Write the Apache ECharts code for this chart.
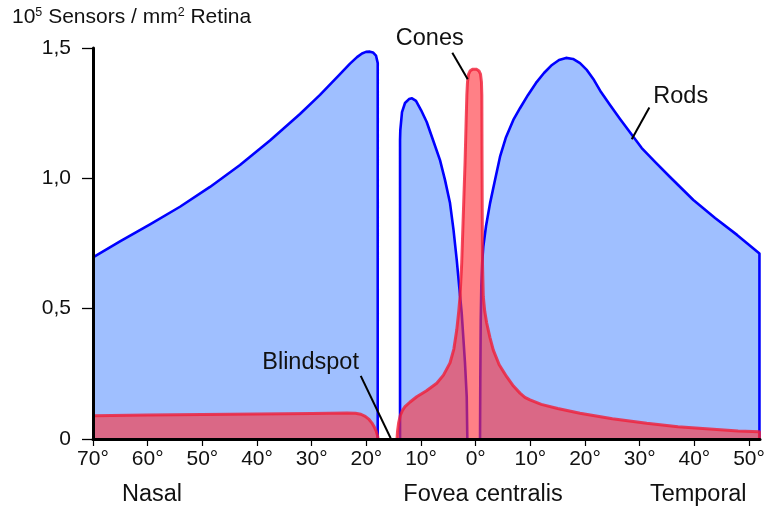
<!DOCTYPE html>
<html><head><meta charset="utf-8">
<script src="https://cdn.jsdelivr.net/npm/echarts@6/dist/echarts.min.js"></script>
<style>html,body{margin:0;padding:0;background:#fff}#c{width:768px;height:509px}</style>
</head><body><div id="c"></div>
<script>
// ---- data (degrees from fovea: negative = nasal, positive = temporal; values in 10^5 sensors/mm^2) ----
const xTicks = [-70,-60,-50,-40,-30,-20,-10,0,10,20,30,40,50];
const yTicks = [0, 0.5, 1.0, 1.5];
const yTickLabels = ['0', '0,5', '1,0', '1,5'];

const rodsNasal = [[-70,0.697],[-65.06,0.758],[-59.57,0.823],[-54.09,0.891],[-48.60,0.967],[-43.11,1.051],[-37.63,1.145],[-32.14,1.247],[-28.48,1.320],[-24.82,1.400],[-22.99,1.440],[-21.71,1.465],[-20.80,1.479],[-20.07,1.485],[-19.34,1.486],[-18.79,1.483],[-18.24,1.471],[-17.92,1.442],[-17.92,0]];
const rodsParafovea = [[-13.84,0],[-13.84,1.147],[-13.79,1.185],[-13.48,1.254],[-12.93,1.289],[-12.20,1.304],[-11.65,1.307],[-10.92,1.297],[-10.00,1.262],[-8.96,1.216],[-7.81,1.147],[-6.53,1.070],[-5.62,0.994],[-4.70,0.905],[-4.06,0.802],[-3.47,0.687],[-2.96,0.572],[-2.56,0.483],[-1.96,0.292],[-1.64,0.161],[-1.53,0]];
const rodsTemporal = [[0.79,0],[0.84,0.226],[0.92,0.456],[1.03,0.591],[1.19,0.679],[1.39,0.738],[1.89,0.817],[2.62,0.904],[3.53,0.994],[4.45,1.083],[5.54,1.158],[6.88,1.224],[8.10,1.269],[9.57,1.320],[11.03,1.366],[12.49,1.404],[13.95,1.435],[15.24,1.454],[16.52,1.462],[17.80,1.458],[19.08,1.442],[20.36,1.415],[21.64,1.377],[22.92,1.331],[24.57,1.281],[26.40,1.228],[28.59,1.166],[30.37,1.116],[32.80,1.063],[35.54,1.005],[39.81,0.917],[43.78,0.848],[47.80,0.783],[51.9,0.712],[51.9,0]];

const conesNasal = [[-70,0.089],[-60,0.092],[-50,0.094],[-40,0.096],[-30,0.098],[-23.5,0.100],[-22.0,0.099],[-21.0,0.095],[-20.2,0.087],[-19.5,0.075],[-19.0,0.062],[-18.6,0.048],[-18.2,0.030],[-17.95,0.012],[-17.85,0]];
const conesCentral = [[-14.4,0],[-14.3,0.030],[-14.1,0.062],[-13.8,0.090],[-13.4,0.110],[-12.93,0.124],[-12.0,0.142],[-10.79,0.162],[-9.0,0.185],[-7.13,0.214],[-5.9,0.245],[-4.70,0.292],[-4.0,0.345],[-3.47,0.418],[-3.1,0.490],[-2.87,0.546],[-2.56,0.675],[-2.3,0.84],[-1.95,1.06],[-1.75,1.22],[-1.62,1.32],[-1.5,1.37],[-1.3,1.40],[-1.0,1.413],[-0.6,1.418],[0.2,1.418],[0.6,1.412],[0.88,1.40],[1.05,1.37],[1.12,1.32],[1.15,1.109],[1.20,0.85],[1.24,0.675],[1.39,0.546],[1.65,0.490],[2.01,0.445],[2.6,0.390],[3.22,0.341],[4.3,0.285],[5.67,0.239],[6.9,0.203],[8.10,0.176],[9.0,0.160],[9.93,0.150],[12.0,0.133],[15.0,0.117],[19.08,0.099],[25.0,0.078],[31.28,0.060],[37.0,0.047],[43.46,0.037],[48.0,0.031],[51.9,0.028],[51.9,0]];

const regionNames = ['Nasal', 'Fovea centralis', 'Temporal'];
const regionAt = [-59.2, 1.34, 40.7];
const annotations = [
  {text: 'Cones', from: [-4.28, 1.482], to: [-1.46, 1.380], label: [-8.4, 1.535]},
  {text: 'Rods', from: [31.76, 1.272], to: [28.54, 1.150], label: [37.5, 1.312]},
  {text: 'Blindspot', from: [-21.03, 0.242], to: [-15.55, 0.003], label: [-30.2, 0.295]}
];

const withBreaks = (...parts) => parts.reduce((acc, p, i) => i ? acc.concat([[null, null]], p) : p.slice(), []);
const rods = withBreaks(rodsNasal, rodsParafovea, rodsTemporal);
const cones = withBreaks(conesNasal, conesCentral);

const FONT = '"Liberation Sans", Arial, sans-serif';
const chart = echarts.init(document.getElementById('c'), null, {renderer: 'canvas'});
chart.setOption({
  animation: false,
  grid: {left: 93, right: 8, top: 48, bottom: 70},
  xAxis: {
    type: 'value', min: -70, max: 52, interval: 10, z: 5,
    axisLine: {show: true, onZero: false, lineStyle: {color: '#000', width: 3}},
    axisTick: {show: true, customValues: xTicks, length: 7, lineStyle: {color: '#000', width: 1.2}},
    axisLabel: {customValues: xTicks, margin: 10, color: '#111', fontSize: 21, fontFamily: FONT,
      formatter: v => Math.abs(Math.round(v)) + '°'},
    splitLine: {show: false}
  },
  yAxis: {
    type: 'value', min: 0, max: 1.5, interval: 0.5, z: 5,
    axisLine: {show: true, onZero: false, lineStyle: {color: '#000', width: 3}},
    axisTick: {show: true, length: 11, lineStyle: {color: '#000', width: 1.3}},
    axisLabel: {margin: 22, color: '#111', fontSize: 21, fontFamily: FONT,
      formatter: v => { const i = yTicks.findIndex(t => Math.abs(t - v) < 1e-6); return i >= 0 ? yTickLabels[i] : ''; }},
    splitLine: {show: false}
  },
  series: [
    {type: 'line', name: 'Rods', data: rods, showSymbol: false, connectNulls: false, smooth: false,
      lineStyle: {color: '#0000ff', width: 2.6, join: 'round'}, areaStyle: {color: '#9fbfff', opacity: 1}, z: 2},
    {type: 'line', name: 'Cones', data: cones, showSymbol: false, connectNulls: false, smooth: false,
      lineStyle: {color: 'rgba(240,30,55,0.8)', width: 3, join: 'round'}, areaStyle: {color: 'rgba(255,50,60,0.62)', opacity: 1}, z: 3}
  ]
});

const px = p => chart.convertToPixel({xAxisIndex: 0, yAxisIndex: 0}, p);
const graphics = [{
  type: 'text', left: 12, top: 6, z: 10,
  style: {
    text: '{b|10}{s|5}{b| Sensors / mm}{s|2}{b| Retina}',
    rich: {
      b: {fontSize: 21, fontFamily: FONT, fill: '#111', lineHeight: 25, verticalAlign: 'bottom'},
      s: {fontSize: 12.5, fontFamily: FONT, fill: '#111', lineHeight: 25, verticalAlign: 'bottom', padding: [0, 0, 9, 0]}
    }
  }
}];
regionNames.forEach((name, i) => {
  const p = px([regionAt[i], 0]);
  graphics.push({type: 'text', x: p[0], y: 495, z: 10,
    style: {text: name, fontSize: 23.5, fontFamily: FONT, fill: '#111', align: 'center', verticalAlign: 'middle'}});
});
annotations.forEach(a => {
  const f = px(a.from), t = px(a.to), l = px(a.label);
  graphics.push({type: 'line', z: 10, shape: {x1: f[0], y1: f[1], x2: t[0], y2: t[1]}, style: {stroke: '#000', lineWidth: 2}});
  graphics.push({type: 'text', x: l[0], y: l[1], z: 10,
    style: {text: a.text, fontSize: 23.5, fontFamily: FONT, fill: '#111', align: 'center', verticalAlign: 'middle'}});
});
chart.setOption({graphic: graphics});
</script>
</body></html>
